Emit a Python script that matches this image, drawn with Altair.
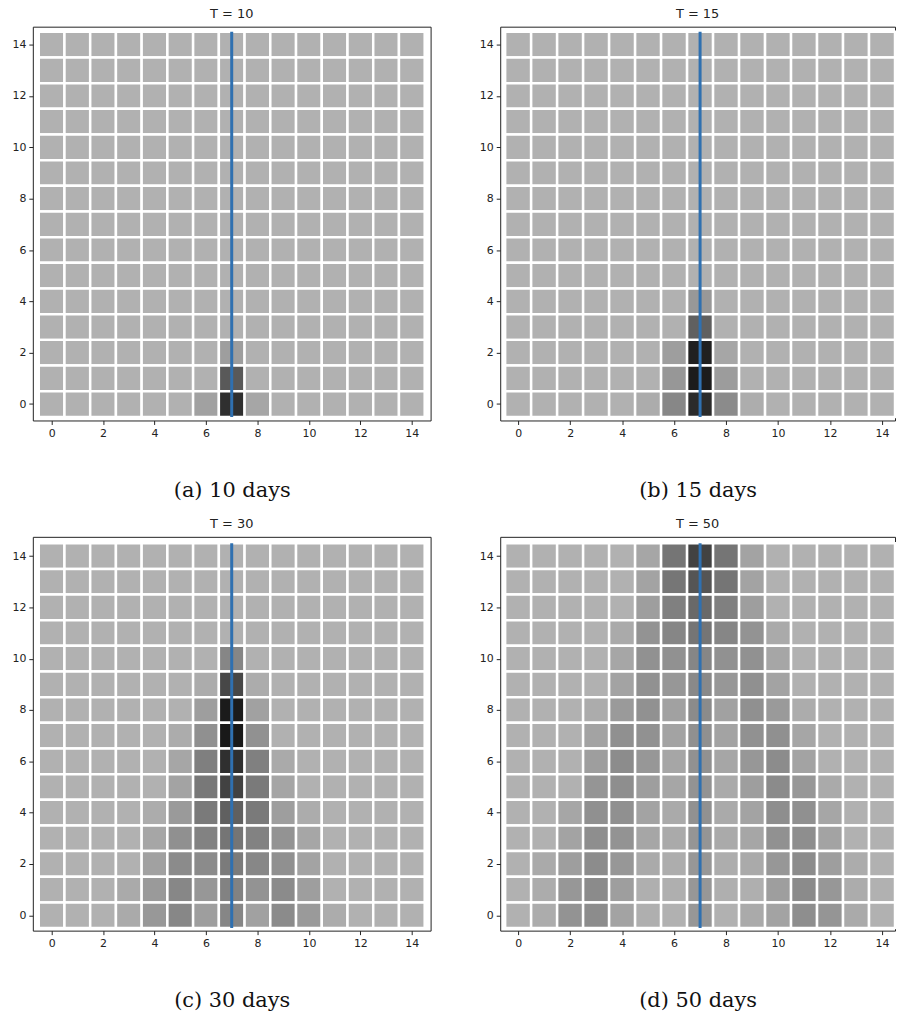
import altair as alt
import pandas as pd

N = 15
TICKS = list(range(0, 15, 2))

# Darkness level (0-100) of every cell; rows run from y = 14 (top) down to y = 0.
grid_t10 = [
    [0, 0, 0, 0, 0, 0, 0, 0, 0, 0, 0, 0, 0, 0, 0],
    [0, 0, 0, 0, 0, 0, 0, 0, 0, 0, 0, 0, 0, 0, 0],
    [0, 0, 0, 0, 0, 0, 0, 0, 0, 0, 0, 0, 0, 0, 0],
    [0, 0, 0, 0, 0, 0, 0, 0, 0, 0, 0, 0, 0, 0, 0],
    [0, 0, 0, 0, 0, 0, 0, 0, 0, 0, 0, 0, 0, 0, 0],
    [0, 0, 0, 0, 0, 0, 0, 0, 0, 0, 0, 0, 0, 0, 0],
    [0, 0, 0, 0, 0, 0, 0, 0, 0, 0, 0, 0, 0, 0, 0],
    [0, 0, 0, 0, 0, 0, 0, 0, 0, 0, 0, 0, 0, 0, 0],
    [0, 0, 0, 0, 0, 0, 0, 0, 0, 0, 0, 0, 0, 0, 0],
    [0, 0, 0, 0, 0, 0, 0, 0, 0, 0, 0, 0, 0, 0, 0],
    [0, 0, 0, 0, 0, 0, 0, 0, 0, 0, 0, 0, 0, 0, 0],
    [0, 0, 0, 0, 0, 0, 0, 0, 0, 0, 0, 0, 0, 0, 0],
    [0, 0, 0, 0, 0, 0, 0, 11, 0, 0, 0, 0, 0, 0, 0],
    [0, 0, 0, 0, 0, 0, 0, 52, 0, 0, 0, 0, 0, 0, 0],
    [0, 0, 0, 0, 0, 0, 9, 80, 6, 0, 0, 0, 0, 0, 0],
]

grid_t15 = [
    [0, 0, 0, 0, 0, 0, 0, 0, 0, 0, 0, 0, 0, 0, 0],
    [0, 0, 0, 0, 0, 0, 0, 0, 0, 0, 0, 0, 0, 0, 0],
    [0, 0, 0, 0, 0, 0, 0, 0, 0, 0, 0, 0, 0, 0, 0],
    [0, 0, 0, 0, 0, 0, 0, 0, 0, 0, 0, 0, 0, 0, 0],
    [0, 0, 0, 0, 0, 0, 0, 0, 0, 0, 0, 0, 0, 0, 0],
    [0, 0, 0, 0, 0, 0, 0, 0, 0, 0, 0, 0, 0, 0, 0],
    [0, 0, 0, 0, 0, 0, 0, 0, 0, 0, 0, 0, 0, 0, 0],
    [0, 0, 0, 0, 0, 0, 0, 0, 0, 0, 0, 0, 0, 0, 0],
    [0, 0, 0, 0, 0, 0, 0, 0, 0, 0, 0, 0, 0, 0, 0],
    [0, 0, 0, 0, 0, 0, 0, 0, 0, 0, 0, 0, 0, 0, 0],
    [0, 0, 0, 0, 0, 0, 0, 14, 0, 0, 0, 0, 0, 0, 0],
    [0, 0, 0, 0, 0, 0, 0, 48, 0, 0, 0, 0, 0, 0, 0],
    [0, 0, 0, 0, 0, 0, 11, 91, 6, 0, 0, 0, 0, 0, 0],
    [0, 0, 0, 0, 0, 0, 15, 94, 12, 0, 0, 0, 0, 0, 0],
    [0, 0, 0, 0, 0, 3, 24, 83, 22, 2, 0, 0, 0, 0, 0],
]

grid_t30 = [
    [0, 0, 0, 0, 0, 0, 0, 0, 0, 0, 0, 0, 0, 0, 0],
    [0, 0, 0, 0, 0, 0, 0, 0, 0, 0, 0, 0, 0, 0, 0],
    [0, 0, 0, 0, 0, 0, 0, 0, 0, 0, 0, 0, 0, 0, 0],
    [0, 0, 0, 0, 0, 0, 0, 0, 0, 0, 0, 0, 0, 0, 0],
    [0, 0, 0, 0, 0, 0, 0, 25, 0, 0, 0, 0, 0, 0, 0],
    [0, 0, 0, 0, 0, 0, 3, 64, 3, 0, 0, 0, 0, 0, 0],
    [0, 0, 0, 0, 0, 0, 11, 95, 9, 0, 0, 0, 0, 0, 0],
    [0, 0, 0, 0, 0, 3, 19, 96, 18, 0, 0, 0, 0, 0, 0],
    [0, 0, 0, 0, 0, 6, 29, 80, 28, 4, 0, 0, 0, 0, 0],
    [0, 0, 0, 0, 0, 8, 33, 67, 32, 7, 0, 0, 0, 0, 0],
    [0, 0, 0, 0, 3, 13, 32, 48, 32, 11, 3, 0, 0, 0, 0],
    [0, 0, 0, 0, 6, 19, 27, 35, 27, 17, 6, 0, 0, 0, 0],
    [0, 0, 0, 0, 9, 22, 22, 31, 24, 19, 8, 0, 0, 0, 0],
    [0, 0, 0, 4, 13, 24, 15, 27, 17, 22, 11, 0, 0, 0, 0],
    [0, 0, 0, 4, 14, 24, 11, 25, 9, 22, 13, 3, 0, 0, 0],
]

grid_t50 = [
    [0, 0, 0, 0, 0, 6, 35, 67, 35, 8, 0, 0, 0, 0, 0],
    [0, 0, 0, 0, 0, 8, 34, 55, 35, 8, 0, 0, 0, 0, 0],
    [0, 0, 0, 0, 0, 11, 28, 42, 28, 11, 0, 0, 0, 0, 0],
    [0, 0, 0, 0, 4, 17, 25, 35, 25, 17, 4, 0, 0, 0, 0],
    [0, 0, 0, 0, 6, 18, 18, 25, 18, 18, 6, 0, 0, 0, 0],
    [0, 0, 0, 0, 8, 18, 15, 23, 15, 19, 8, 0, 0, 0, 0],
    [0, 0, 0, 3, 13, 18, 9, 22, 9, 19, 13, 3, 0, 0, 0],
    [0, 0, 0, 8, 19, 18, 8, 19, 8, 18, 19, 6, 0, 0, 0],
    [0, 0, 0, 11, 21, 15, 6, 18, 6, 15, 21, 8, 0, 0, 0],
    [0, 0, 0, 16, 20, 11, 6, 17, 4, 11, 22, 15, 4, 0, 0],
    [0, 0, 6, 19, 19, 8, 4, 18, 4, 8, 20, 19, 6, 0, 0],
    [0, 0, 8, 20, 17, 6, 4, 16, 4, 6, 18, 20, 8, 0, 0],
    [0, 4, 11, 21, 15, 4, 2, 15, 2, 4, 15, 21, 11, 3, 0],
    [0, 3, 15, 22, 11, 1, 1, 15, 1, 1, 11, 22, 15, 3, 0],
    [0, 3, 17, 21, 8, 1, 0, 15, 0, 4, 8, 20, 16, 4, 0],
]

# Vertical marker at column 7
marker_x = [7]
marker_y = [-0.5, 14.5]


def grid_frame(grid):
    recs = []
    for i, row in enumerate(grid):
        y = N - 1 - i
        for x, v in enumerate(row):
            recs.append({"x0": x - 0.5, "x1": x + 0.5,
                         "y0": y - 0.5, "y1": y + 0.5, "level": v})
    return pd.DataFrame(recs)


def panel(grid, title, caption, width, x_dom, height, y_dom):
    xs = alt.Scale(domain=x_dom, nice=False, zero=False)
    ys = alt.Scale(domain=y_dom, nice=False, zero=False)
    cells = alt.Chart(grid_frame(grid)).mark_rect(
        stroke="white", strokeWidth=2.5
    ).encode(
        x=alt.X("x0:Q", scale=xs,
                axis=alt.Axis(values=TICKS, title=caption)),
        x2="x1:Q",
        y=alt.Y("y0:Q", scale=ys, axis=alt.Axis(values=TICKS, title=None)),
        y2="y1:Q",
        color=alt.Color("level:Q",
                        scale=alt.Scale(domain=[0, 100],
                                        range=["#b1b1b1", "#141414"]),
                        legend=None),
    )
    line_df = pd.DataFrame({"x": marker_x, "y0": [marker_y[0]],
                            "y1": [marker_y[1]]})
    marker = alt.Chart(line_df).mark_rule(
        color="#2f70b0", strokeWidth=3
    ).encode(x="x:Q", y="y0:Q", y2="y1:Q")
    return alt.layer(cells, marker).properties(
        width=width, height=height,
        title=alt.TitleParams(title, fontSize=13, font="DejaVu Sans",
                              fontWeight="normal", color="#222", offset=6),
    )


top_dom = [-0.64, 14.7]
bot_dom = [-0.6, 14.75]

pa = panel(grid_t10, "T = 10", "(a) 10 days", 400, [-0.73, 14.73], 396, top_dom)
pb = panel(grid_t15, "T = 15", "(b) 15 days", 397, [-0.69, 14.5], 396, top_dom)
pc = panel(grid_t30, "T = 30", "(c) 30 days", 400, [-0.73, 14.73], 396, bot_dom)
pd_ = panel(grid_t50, "T = 50", "(d) 50 days", 397, [-0.69, 14.5], 396, bot_dom)

chart = alt.vconcat(
    alt.hconcat(pa, pb, spacing=47),
    alt.hconcat(pc, pd_, spacing=47),
    spacing=16,
).properties(
    padding={"left": 11, "top": 4, "right": 0, "bottom": 0},
    background="white",
).configure_view(
    stroke="#222", strokeWidth=1
).configure_axis(
    grid=False, domain=False,
    labelFont="DejaVu Sans", labelFontSize=11, labelColor="#222",
    tickColor="#222", tickSize=4, labelPadding=3,
    titleFont="DejaVu Serif", titleFontSize=21, titleFontWeight="normal",
    titleColor="#111", titlePadding=41,
)

chart.save("out.html", embed_options={"renderer": "svg", "actions": False})
